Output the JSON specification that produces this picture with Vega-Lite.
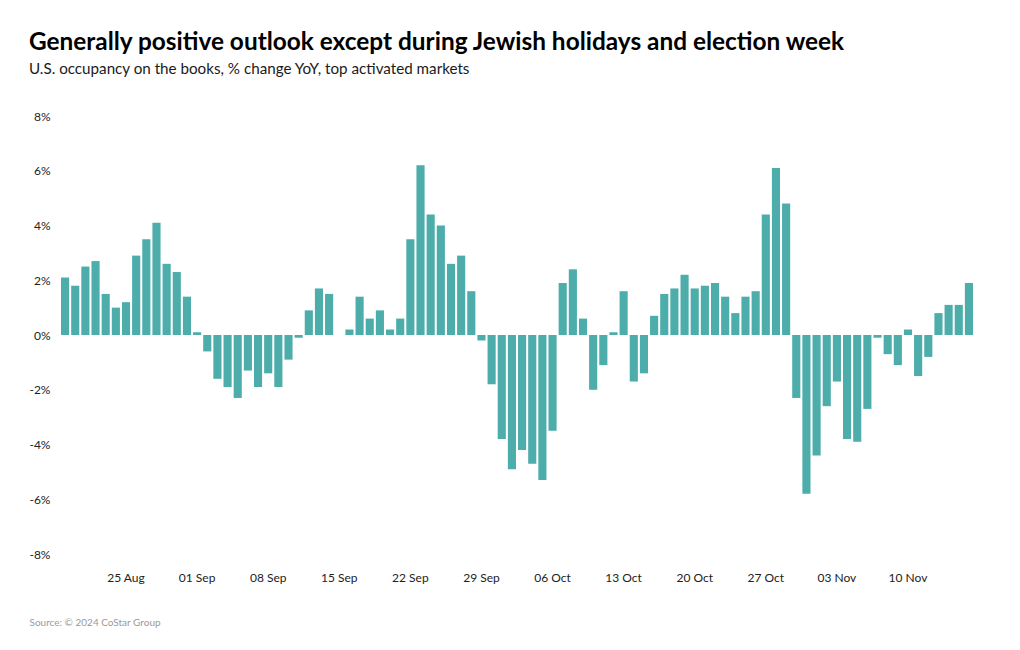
{
  "$schema": "https://vega.github.io/schema/vega-lite/v6.json",
  "width": 914,
  "height": 438,
  "padding": {"left": 28, "top": 30, "right": 10, "bottom": 10},
  "background": "white",
  "title": {
    "text": "Generally positive outlook except during Jewish holidays and election week",
    "subtitle": "U.S. occupancy on the books, % change YoY, top activated markets",
    "anchor": "start",
    "frame": "bounds",
    "font": "Lato",
    "fontSize": 24.4,
    "fontWeight": "bold",
    "color": "#000000",
    "subtitleFont": "Lato",
    "subtitleFontSize": 15.2,
    "subtitleColor": "#1a1a1a",
    "subtitlePadding": 6,
    "offset": 32
  },
  "config": {"view": {"stroke": null}},
  "data": {
    "values": [
      {"date": "2024-08-19", "value": 2.1},
      {"date": "2024-08-20", "value": 1.8},
      {"date": "2024-08-21", "value": 2.5},
      {"date": "2024-08-22", "value": 2.7},
      {"date": "2024-08-23", "value": 1.5},
      {"date": "2024-08-24", "value": 1.0},
      {"date": "2024-08-25", "value": 1.2},
      {"date": "2024-08-26", "value": 2.9},
      {"date": "2024-08-27", "value": 3.5},
      {"date": "2024-08-28", "value": 4.1},
      {"date": "2024-08-29", "value": 2.6},
      {"date": "2024-08-30", "value": 2.3},
      {"date": "2024-08-31", "value": 1.4},
      {"date": "2024-09-01", "value": 0.1},
      {"date": "2024-09-02", "value": -0.6},
      {"date": "2024-09-03", "value": -1.6},
      {"date": "2024-09-04", "value": -1.9},
      {"date": "2024-09-05", "value": -2.3},
      {"date": "2024-09-06", "value": -1.3},
      {"date": "2024-09-07", "value": -1.9},
      {"date": "2024-09-08", "value": -1.4},
      {"date": "2024-09-09", "value": -1.9},
      {"date": "2024-09-10", "value": -0.9},
      {"date": "2024-09-11", "value": -0.1},
      {"date": "2024-09-12", "value": 0.9},
      {"date": "2024-09-13", "value": 1.7},
      {"date": "2024-09-14", "value": 1.5},
      {"date": "2024-09-15", "value": 0},
      {"date": "2024-09-16", "value": 0.2},
      {"date": "2024-09-17", "value": 1.4},
      {"date": "2024-09-18", "value": 0.6},
      {"date": "2024-09-19", "value": 0.9},
      {"date": "2024-09-20", "value": 0.2},
      {"date": "2024-09-21", "value": 0.6},
      {"date": "2024-09-22", "value": 3.5},
      {"date": "2024-09-23", "value": 6.2},
      {"date": "2024-09-24", "value": 4.4},
      {"date": "2024-09-25", "value": 4.0},
      {"date": "2024-09-26", "value": 2.6},
      {"date": "2024-09-27", "value": 2.9},
      {"date": "2024-09-28", "value": 1.6},
      {"date": "2024-09-29", "value": -0.2},
      {"date": "2024-09-30", "value": -1.8},
      {"date": "2024-10-01", "value": -3.8},
      {"date": "2024-10-02", "value": -4.9},
      {"date": "2024-10-03", "value": -4.2},
      {"date": "2024-10-04", "value": -4.7},
      {"date": "2024-10-05", "value": -5.3},
      {"date": "2024-10-06", "value": -3.5},
      {"date": "2024-10-07", "value": 1.9},
      {"date": "2024-10-08", "value": 2.4},
      {"date": "2024-10-09", "value": 0.6},
      {"date": "2024-10-10", "value": -2.0},
      {"date": "2024-10-11", "value": -1.1},
      {"date": "2024-10-12", "value": 0.1},
      {"date": "2024-10-13", "value": 1.6},
      {"date": "2024-10-14", "value": -1.7},
      {"date": "2024-10-15", "value": -1.4},
      {"date": "2024-10-16", "value": 0.7},
      {"date": "2024-10-17", "value": 1.5},
      {"date": "2024-10-18", "value": 1.7},
      {"date": "2024-10-19", "value": 2.2},
      {"date": "2024-10-20", "value": 1.7},
      {"date": "2024-10-21", "value": 1.8},
      {"date": "2024-10-22", "value": 1.9},
      {"date": "2024-10-23", "value": 1.4},
      {"date": "2024-10-24", "value": 0.8},
      {"date": "2024-10-25", "value": 1.4},
      {"date": "2024-10-26", "value": 1.6},
      {"date": "2024-10-27", "value": 4.4},
      {"date": "2024-10-28", "value": 6.1},
      {"date": "2024-10-29", "value": 4.8},
      {"date": "2024-10-30", "value": -2.3},
      {"date": "2024-10-31", "value": -5.8},
      {"date": "2024-11-01", "value": -4.4},
      {"date": "2024-11-02", "value": -2.6},
      {"date": "2024-11-03", "value": -1.7},
      {"date": "2024-11-04", "value": -3.8},
      {"date": "2024-11-05", "value": -3.9},
      {"date": "2024-11-06", "value": -2.7},
      {"date": "2024-11-07", "value": -0.1},
      {"date": "2024-11-08", "value": -0.7},
      {"date": "2024-11-09", "value": -1.1},
      {"date": "2024-11-10", "value": 0.2},
      {"date": "2024-11-11", "value": -1.5},
      {"date": "2024-11-12", "value": -0.8},
      {"date": "2024-11-13", "value": 0.8},
      {"date": "2024-11-14", "value": 1.1},
      {"date": "2024-11-15", "value": 1.1},
      {"date": "2024-11-16", "value": 1.9}
    ]
  },
  "mark": {"type": "bar", "color": "#4dadab"},
  "encoding": {
    "x": {
      "field": "date",
      "type": "ordinal",
      "sort": null,
      "scale": {"paddingInner": 0.2, "paddingOuter": 0.1},
      "axis": {
        "values": ["2024-08-25", "2024-09-01", "2024-09-08", "2024-09-15", "2024-09-22", "2024-09-29", "2024-10-06", "2024-10-13", "2024-10-20", "2024-10-27", "2024-11-03", "2024-11-10"],
        "labelExpr": "utcFormat(toDate(datum.value), '%d %b')",
        "labelAngle": 0,
        "ticks": false,
        "domain": false,
        "grid": false,
        "labelPadding": 18,
        "labelFont": "Lato",
        "labelFontSize": 12,
        "labelColor": "#222222",
        "title": "Source: © 2024 CoStar Group",
        "titleFont": "Lato",
        "titleFontSize": 10,
        "titleFontWeight": "normal",
        "titleColor": "#9a9a9a",
        "titleAnchor": "start",
        "titleAlign": "left",
        "titleBaseline": "middle",
        "titleX": -31,
        "titleY": 68
      }
    },
    "y": {
      "field": "value",
      "type": "quantitative",
      "scale": {"domain": [-8, 8], "nice": false},
      "axis": {
        "values": [-8, -6, -4, -2, 0, 2, 4, 6, 8],
        "labelExpr": "datum.value + '%'",
        "ticks": false,
        "domain": false,
        "grid": false,
        "labelPadding": 10,
        "labelFont": "Lato",
        "labelFontSize": 12,
        "labelColor": "#222222",
        "title": null
      }
    }
  }
}
